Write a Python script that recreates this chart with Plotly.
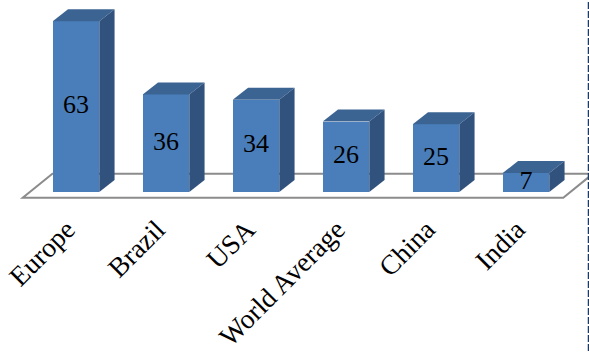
import plotly.graph_objects as go

# Data
categories = ["Europe", "Brazil", "USA", "World Average", "China", "India"]
values = [63, 36, 34, 26, 25, 7]

# Styling constants for the pseudo-3D column look
FRONT = "#4a7ebb"
TOP = "#3b6493"
SIDE = "#30527d"
BAR_W = 0.517      # column width (category units)
DEPTH_X = 0.17     # receding depth, horizontal (category units)
DEPTH_Y = 4.43     # receding depth, vertical (value units)

xs = list(range(len(categories)))

fig = go.Figure()

# Front faces
fig.add_trace(go.Bar(
    x=xs, y=values, width=BAR_W,
    marker=dict(color=FRONT, line=dict(width=0)),
    hoverinfo="skip", showlegend=False,
))

# Top and side faces, computed from each value
for x, v in zip(xs, values):
    l, r = x - BAR_W / 2, x + BAR_W / 2
    fig.add_trace(go.Scatter(
        x=[l, r, r + DEPTH_X, l + DEPTH_X, l],
        y=[v, v, v + DEPTH_Y, v + DEPTH_Y, v],
        fill="toself", fillcolor=TOP, mode="lines",
        line=dict(width=0, color=TOP), hoverinfo="skip", showlegend=False,
    ))
    fig.add_trace(go.Scatter(
        x=[r, r, r + DEPTH_X, r + DEPTH_X, r],
        y=[0, v, v + DEPTH_Y, DEPTH_Y, 0],
        fill="toself", fillcolor=SIDE, mode="lines",
        line=dict(width=0, color=SIDE), hoverinfo="skip", showlegend=False,
    ))

# Value labels in the middle of each front face
fig.add_trace(go.Scatter(
    x=xs, y=[v / 2 for v in values], mode="text",
    text=[str(v) for v in values],
    textfont=dict(family="Liberation Serif", size=26, color="black"),
    hoverinfo="skip", showlegend=False,
))

# Floor plane outline
n = len(categories)
floor_front, floor_back = -2.1, 6.75
floor_left, floor_shift = -0.592, 0.33
floor_right = n - 1 + 0.414
fig.add_shape(
    type="path", xref="x", yref="y", layer="below",
    path=(f"M {floor_left},{floor_front} L {floor_right},{floor_front} "
          f"L {floor_right + floor_shift},{floor_back} "
          f"L {floor_left + floor_shift},{floor_back} Z"),
    line=dict(color="#8c8c8c", width=2), fillcolor="white",
)

# Dashed frame edge on the right
fig.add_shape(
    type="line", xref="paper", yref="paper",
    x0=588.5 / 589, x1=588.5 / 589, y0=-0.8, y1=1.1,
    line=dict(color="#1f3a5f", width=1.5, dash="7px,2px"),
)

fig.update_layout(
    width=589, height=352,
    margin=dict(l=0, r=0, t=0, b=147),
    paper_bgcolor="white", plot_bgcolor="white",
    bargap=0,
    xaxis=dict(
        range=[-76 / 90, 513 / 90],
        tickvals=xs, ticktext=categories, tickangle=-45,
        tickfont=dict(family="Liberation Serif", size=27.5, color="black"),
        ticklabelshift=-9, ticklabelstandoff=2,
        showgrid=False, zeroline=False, showline=False, ticks="",
        automargin=False, fixedrange=True,
    ),
    yaxis=dict(
        range=[-4.8, 70.85], visible=False, showgrid=False,
        zeroline=False, fixedrange=True,
    ),
)

fig.write_html("out.html")
